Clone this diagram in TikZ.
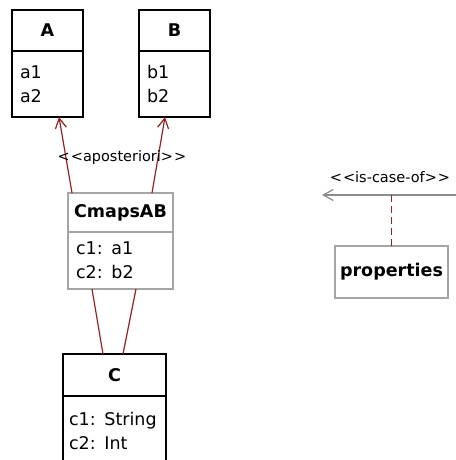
\documentclass[tikz,border=0pt]{standalone}
\usepackage{fontspec}
\setmainfont{DejaVu Sans}
\usetikzlibrary{arrows.meta,positioning,calc}
\definecolor{linkred}{RGB}{160,32,32}
\definecolor{boxgray}{RGB}{165,165,165}
\definecolor{linegray}{RGB}{140,140,140}
\newcommand\umlsize{\fontsize{17.5}{24}\selectfont}
\newcommand\stsize{\fontsize{14.5}{16}\selectfont}
\newcommand\stereo[1]{<\kern1pt<#1>\kern1pt>}
\tikzset{
  head/.style={draw,line width=1.3pt,inner sep=0pt,outer sep=0pt,font=\umlsize\bfseries},
  body/.style={draw,line width=1.3pt,inner xsep=8pt,inner ysep=0pt,outer sep=0pt,align=left,font=\umlsize,anchor=north},
  rel/.style={draw=linkred,line width=1.2pt},
}

\begin{document}
\begin{tikzpicture}[>={Straight Barb[length=10pt,width=11pt]},x=1pt,y=-1pt]
\useasboundingbox (0,0) rectangle (455,460);
%class A
\node[head,minimum width=71,minimum height=41] (A) at (47.5,30.5) {A};
\node[body,text width=55,minimum height=66] (A-body) at (A.south) {a1\\a2};
%class B
\node[head,minimum width=71,minimum height=41] (B) at (174.5,30.5) {B};
\node[body,text width=55,minimum height=66] (B-body) at (B.south) {b1\\b2};
%mapping CmapsAB
\node[head,boxgray,text=black,minimum width=105,minimum height=39] (CmapsAB) at (120.5,212.5) {CmapsAB};
\node[body,boxgray,text=black,text width=89,minimum height=57] (CmapsAB-body) at (CmapsAB.south) {c1: a1\\c2: b2};
%class C
\node[head,minimum width=103,minimum height=42] (C) at (114.5,375) {C};
\node[body,text width=91,inner xsep=6pt,minimum height=70] (C-body) at (C.south) {c1: String\\c2: Int};
%properties
\node[head,boxgray,text=black,minimum width=113,minimum height=52] (properties) at (391.5,272) {properties};
%links
\draw[rel,->] ([xshift=4]CmapsAB.north west) -- ([xshift=11.5]A-body.south);
\draw[rel,->] ([xshift=-21]CmapsAB.north east) -- ([xshift=-9.5]B-body.south);
\node[font=\stsize] (post-label) at (122,157) {\stereo{aposteriori}};
\draw[rel] ([xshift=-28.5]CmapsAB-body.south) -- ([xshift=-11.5]C.north);
\draw[rel] ([xshift=15.5]CmapsAB-body.south) -- ([xshift=8.5]C.north);
%is-case-of
\coordinate (case-end) at (460,195);
\coordinate (case-tip) at (322,195);
\draw[linegray,line width=1.2pt,->] (case-end) -- (case-tip);
\node[font=\stsize] (case-label) at (390,177) {\stereo{is-case-of}};
\draw[rel,line width=1.6pt,dash pattern=on 7pt off 4pt] (properties.north) -- (properties.north |- case-tip);
\end{tikzpicture}
\end{document}
